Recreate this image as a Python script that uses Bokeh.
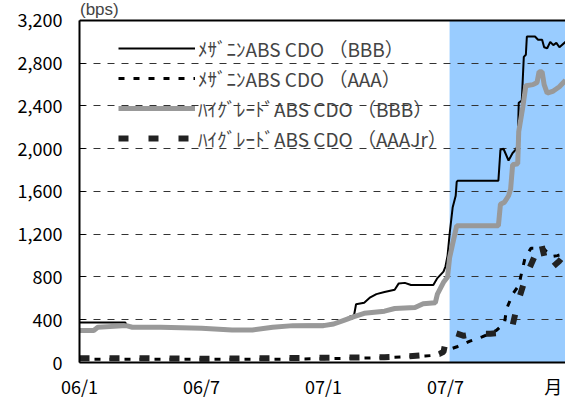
from bokeh.plotting import figure
from bokeh.models import (FixedTicker, Legend, LegendItem, BoxAnnotation, Span, Range1d)
from bokeh.embed import file_html
from bokeh.resources import INLINE

# ---- data (x = months since Jan 2006) ----
mezz_bbb_x = [0, 2.25, 2.35, 2.6, 4, 6, 7.5, 8.5, 9.5, 10.5, 12, 12.5, 13, 13.3, 13.5, 13.6, 14, 14.3, 14.6, 15,
              15.5, 15.7, 16, 16.3, 17.4, 17.6, 17.9, 18, 18.1, 18.2, 18.35, 18.5, 18.55, 18.6, 20.6, 20.7, 20.85,
              21.1, 21.3, 21.45, 21.55, 21.6, 21.75, 21.85, 21.95, 22.0, 22.4, 22.55, 22.75, 22.85, 23.0, 23.15,
              23.3, 23.45, 23.6, 23.9]
mezz_bbb_y = [375, 375, 340, 335, 335, 325, 310, 310, 335, 350, 355, 365, 395, 430, 440, 545, 560, 610, 640, 660,
              680, 740, 745, 725, 725, 790, 850, 900, 1000, 1200, 1450, 1560, 1690, 1700, 1700, 1990, 2000,
              1890, 1960, 1990, 2030, 2430, 2450, 2860, 2880, 3050, 3050, 3020, 3020, 2950, 2940, 3000,
              2970, 2990, 2950, 3000]

hg_bbb_x = [0, 0.7, 0.9, 2.3, 2.6, 4, 6, 7.5, 8.5, 9.5, 10.5, 12, 12.5, 13, 13.5, 14, 15, 15.5, 16.5, 16.9, 17.5,
            17.6, 17.9, 18.1, 18.2, 18.35, 18.55, 20.6, 20.7, 20.9, 21.1, 21.2, 21.3, 21.55, 21.6, 21.8, 21.95,
            22.3, 22.5, 22.6, 22.75, 22.85, 23.0, 23.3, 23.6, 23.9]
hg_bbb_y = [300, 300, 330, 345, 330, 330, 320, 305, 305, 330, 345, 345, 360, 395, 430, 460, 480, 505, 515, 550, 560,
            640, 750, 800, 980, 1110, 1280, 1280, 1480, 1500, 1560, 1620, 1850, 1860, 2160, 2390, 2590,
            2600, 2620, 2720, 2720, 2600, 2520, 2540, 2580, 2640]

mezz_aaa_x = [0, 3, 6, 9, 12, 15, 17, 17.6, 17.9, 18.3, 18.6, 19.2, 19.8, 20.5, 20.9, 21.0, 21.3, 21.6, 21.9,
              22.2, 22.8, 23.2, 23.5, 23.9]
mezz_aaa_y = [30, 30, 30, 30, 35, 45, 60, 70, 110, 130, 150, 200, 240, 300, 370, 500, 640, 720, 970,
              1070, 1070, 990, 1000, 1020]

hg_aaajr_x = [0, 3, 6, 9, 12, 15, 16, 17, 17.7, 17.9, 18.0, 18.4, 18.9, 19.5, 20.2, 20.8, 21.3, 21.6, 22.0,
              22.4, 22.7, 23.0, 23.3, 23.6, 23.9]
hg_aaajr_y = [40, 40, 35, 40, 45, 50, 55, 70, 80, 100, 190, 280, 250, 270, 270, 280, 350, 590, 830,
              1000, 1120, 880, 900, 950, 1020]

series_names = ["ﾒｻﾞﾆﾝABS CDO （BBB）", "ﾒｻﾞﾆﾝABS CDO （AAA）",
                "ﾊｲｸﾞﾚｰﾄﾞABS CDO （BBB）", "ﾊｲｸﾞﾚｰﾄﾞABS CDO （AAAJr）"]

x_ticks = [0, 6, 12, 18, 23.3]
x_tick_labels = ["06/1", "06/7", "07/1", "07/7", "月"]
y_ticks = [0, 400, 800, 1200, 1600, 2000, 2400, 2800, 3200]
y_tick_labels = ["0", "400", "800", "1,200", "1,600", "2,000", "2,400", "2,800", "3,200"]
unit_label = "(bps)"
shade_start = 18.2
x_end = 23.9
y_max = 3200
y_view_top = 3387   # extra headroom above the plot box for the unit text

FONT = "Noto Sans CJK JP"

p = figure(width=565, height=401, output_backend="svg", toolbar_location=None,
           x_range=Range1d(0, x_end), y_range=Range1d(0, y_view_top),
           min_border_left=79, min_border_right=0, min_border_top=0, min_border_bottom=39)
p.outline_line_color = None
p.background_fill_color = "white"

shade = BoxAnnotation(left=shade_start, top=y_max, fill_color="#99CCFF", fill_alpha=1.0,
                      line_color=None, level="image")
p.add_layout(shade)

# axes
for ax in (p.xaxis[0], p.yaxis[0]):
    ax.axis_line_color = "black"
    ax.axis_line_width = 2
    ax.major_tick_out = 0
    ax.minor_tick_line_color = None
    ax.major_tick_line_color = "black"
    ax.major_label_text_font = FONT
    ax.major_label_text_font_size = "18px"
    ax.major_label_text_color = "black"

p.xaxis.ticker = FixedTicker(ticks=x_ticks)
p.xaxis.major_label_overrides = dict(zip(x_ticks, x_tick_labels))
p.xaxis.major_label_standoff = 10
p.xaxis.major_tick_in = 0
p.yaxis.ticker = FixedTicker(ticks=y_ticks)
p.yaxis.major_label_overrides = dict(zip(y_ticks, y_tick_labels))
p.yaxis.major_label_standoff = 17
p.yaxis.major_tick_in = 6
p.yaxis.bounds = (0, y_max)

p.xgrid.grid_line_color = None
p.ygrid.ticker = FixedTicker(ticks=y_ticks[1:-1])
p.ygrid.grid_line_color = "#333333"
p.ygrid.grid_line_width = 1
p.ygrid.grid_line_dash = "7 7"

top = Span(location=y_max, dimension="width", line_color="black", line_width=2)
p.add_layout(top)

r1 = p.line(mezz_bbb_x, mezz_bbb_y, line_color="black", line_width=2)
r3 = p.line(hg_bbb_x, hg_bbb_y, line_color="#999999", line_width=5)
r2 = p.line(mezz_aaa_x, mezz_aaa_y, line_color="black", line_width=3, line_dash="6 9")
r4 = p.line(hg_aaajr_x, hg_aaajr_y, line_color="#222222", line_width=6, line_dash="10 20")

legend = Legend(items=[LegendItem(label=series_names[0], renderers=[r1]),
                       LegendItem(label=series_names[1], renderers=[r2]),
                       LegendItem(label=series_names[2], renderers=[r3]),
                       LegendItem(label=series_names[3], renderers=[r4])],
                location=(39, 210), padding=0, spacing=2, glyph_width=77, glyph_height=28,
                label_height=28, label_standoff=3, label_text_font=FONT, label_text_font_size="19px",
                background_fill_alpha=0, border_line_color=None, margin=0)
p.add_layout(legend)

# unit text above the plot box, drawn as a glyph-less legend entry
dummy = p.line([], [], line_alpha=0)
unit = Legend(items=[LegendItem(label=unit_label, renderers=[dummy])],
              location=(1, 342), padding=0, spacing=0, glyph_width=0, glyph_height=20,
              label_height=20, label_standoff=0, label_text_font="Liberation Sans",
              label_text_font_size="17px",
              background_fill_alpha=0, border_line_color=None, margin=0)
p.add_layout(unit)

open("out.html", "w").write(file_html(p, INLINE))
